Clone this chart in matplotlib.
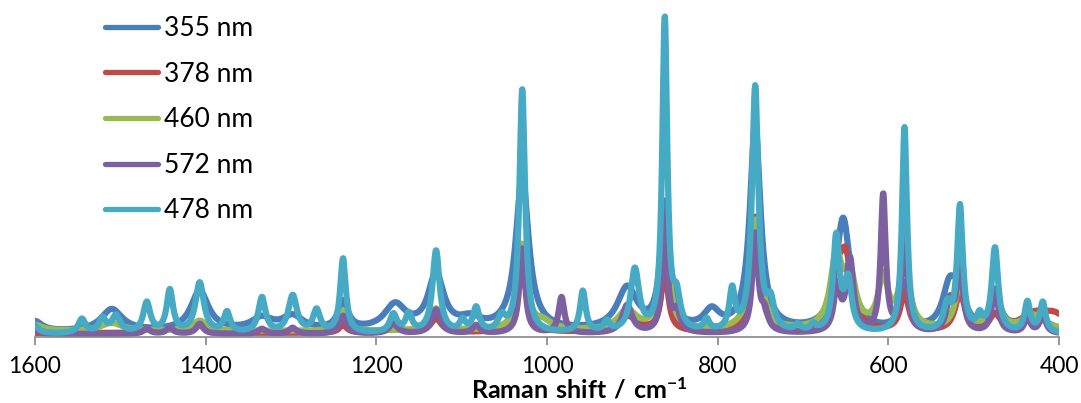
import matplotlib
matplotlib.use('Agg')
import matplotlib.pyplot as plt
import numpy as np

plt.rcParams['font.family'] = ['Lato', 'DejaVu Sans']
plt.rcParams['mathtext.fontset'] = 'custom'
plt.rcParams['mathtext.rm'] = 'Lato'
plt.rcParams['mathtext.bf'] = 'Lato:bold'

# peak tables: (centre cm-1, height, FWHM cm-1)
peaks_355 = [(1600, 10, 20), (1510, 22, 30), (1407, 40, 25), (1334, 12, 30), (1298, 14, 30),
             (1239, 28, 14), (1178, 25, 30), (1130, 55, 22), (1090, 10, 30), (1029, 155, 18),
             (906, 42, 28), (862, 125, 12), (807, 18, 22), (756, 205, 15),
             (653, 112, 20), (581, 45, 12), (528, 45, 20), (516, 40, 12), (475, 35, 15),
             (430, 18, 30)]
peaks_378 = [(1469, 4, 10), (1442, 4, 10), (1407, 8, 12), (1239, 8, 10), (1178, 6, 20),
             (1130, 14, 15), (1029, 80, 12), (906, 16, 30), (862, 60, 10), (756, 115, 12),
             (661, 45, 15), (650, 70, 18), (581, 38, 12), (516, 38, 14), (475, 15, 14),
             (430, 15, 40), (405, 15, 40)]
peaks_460 = [(1600, 6, 20), (1510, 8, 30), (1407, 10, 20), (1239, 20, 10), (1130, 22, 15),
             (1029, 85, 12), (1005, 8, 25), (906, 20, 25), (862, 100, 12), (756, 110, 14),
             (661, 70, 16), (645, 50, 16), (606, 50, 14), (581, 65, 14), (516, 45, 14),
             (475, 35, 14), (430, 15, 30)]
peaks_572 = [(1602, 6, 12), (1469, 5, 10), (1442, 6, 10), (1407, 10, 10), (1334, 5, 10),
             (1298, 6, 10), (1239, 18, 10), (1180, 10, 12), (1130, 24, 12), (1083, 8, 10),
             (1029, 85, 8), (983, 36, 8), (906, 28, 14), (862, 118, 7), (848, 20, 10),
             (756, 98, 8), (745, 18, 10), (660, 45, 9), (645, 72, 10), (606, 137, 7),
             (581, 112, 7), (528, 30, 10), (516, 72, 8), (475, 44, 9), (437, 16, 8),
             (419, 20, 8)]
peaks_478 = [(1602, 10, 12), (1545, 14, 10), (1521, 14, 10), (1505, 17, 12), (1469, 30, 10),
             (1442, 42, 9), (1407, 50, 12), (1375, 20, 9), (1334, 35, 10), (1298, 37, 12),
             (1270, 22, 10), (1239, 74, 8), (1180, 18, 10), (1162, 18, 9), (1130, 82, 10),
             (1099, 11, 8), (1083, 24, 9), (1053, 14, 10), (1029, 243, 8), (958, 41, 8),
             (930, 10, 8), (897, 62, 12), (862, 312, 7), (848, 30, 10), (813, 11, 8),
             (783, 40, 8), (756, 245, 9), (738, 26, 10), (706, 6, 8), (688, 6, 8),
             (661, 94, 9), (647, 50, 10), (581, 205, 7), (531, 25, 10), (516, 125, 8),
             (493, 14, 8), (475, 84, 9), (437, 30, 8), (419, 30, 8)]

labels = ['355 nm', '378 nm', '460 nm', '572 nm', '478 nm']
baselines = [5, 4, 6, 3, 3]
colors = ['#4A7EBB', '#BE4B48', '#98B954', '#7D60A0', '#46AAC5']


def spectrum(x, peaks, base):
    y = np.full_like(x, float(base))
    for c, h, w in peaks:
        y += h / (1 + ((x - c) / (w / 2)) ** 2)
    return y


shift = np.linspace(380, 1620, 2500)

fig = plt.figure(figsize=(10.81, 4.03), dpi=100)
ax = fig.add_axes([35 / 1081, 66 / 403, 1024 / 1081, 327 / 403])

for peaks, base, col, lab in zip([peaks_355, peaks_378, peaks_460, peaks_572, peaks_478],
                                 baselines, colors, labels):
    ax.plot(shift, spectrum(shift, peaks, base), color=col, lw=4.5, label=lab,
            solid_capstyle='round', solid_joinstyle='round')

ax.set_xlim(1600, 400)
ax.set_ylim(0, 327)
ax.set_xticks(np.arange(400, 1601, 200))
ax.set_yticks([])
for s in ['left', 'right', 'top']:
    ax.spines[s].set_visible(False)
ax.spines['bottom'].set_color('#868686')
ax.spines['bottom'].set_linewidth(1.2)
ax.tick_params(axis='x', direction='out', length=6, width=1.2, color='#868686',
               labelsize=16.5, pad=8)
ax.set_xlabel(r'$\mathbf{Raman\ shift\ /\ cm^{-1}}$', fontsize=18)
ax.xaxis.set_label_coords(0.532, -0.122)

leg = fig.legend(loc='upper left', bbox_to_anchor=(105 / 1081, 1 - 16 / 403), frameon=False,
                 prop={'family': 'Lato', 'size': 19}, handlelength=2.0, handletextpad=0.22,
                 labelspacing=0.78, borderpad=0, borderaxespad=0)
for h in leg.legend_handles:
    h.set_linewidth(3.8)

plt.savefig('out.png', dpi=100)
